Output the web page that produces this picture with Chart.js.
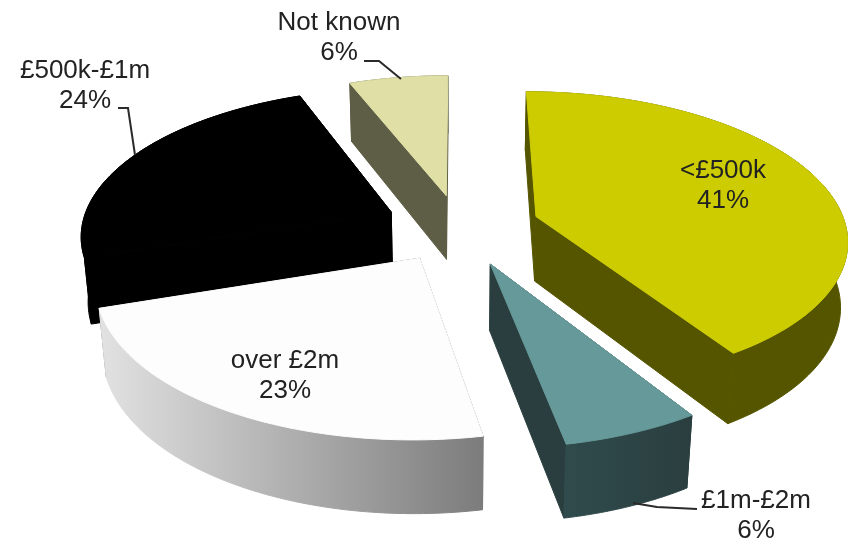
<!DOCTYPE html>
<html>
<head>
<meta charset="utf-8">
<title>Pie chart</title>
<script src="https://cdn.jsdelivr.net/npm/chart.js@4"></script>
<style>
    html, body { margin: 0; padding: 0; background: #ffffff; }
    canvas { display: block; }
</style>
</head>
<body>
<canvas id="chartBands" width="848" height="542"></canvas>
<script>
// slices, clockwise from 12 o'clock
var bands = ["<£500k", "£1m-£2m", "over £2m", "£500k-£1m", "Not known"];
var shares = [41, 6, 23, 24, 6];

// slice styling
var explode = [81, 82, 75, 76, 70];
var topColors = ["#cccc00", "#669999", "#fdfdfd", "#000000", "#e0e0a6"];
var wallColors = [["#555500", "#555500"], ["#304b4c", "#2a3e3f"], ["#e2e2e2", "#7c7c7c"], ["#000000", "#000000"], ["#5e5e46", "#5e5e46"]];
var drawOrder = [4, 3, 0, 2, 1];

// where each label sits: centre x, first baseline, and an optional leader line
var labelSpots = [
    { x: 723, y: 178 },
    { x: 756, y: 508, line: [[697, 509], [657, 507], [633, 503]] },
    { x: 285, y: 368 },
    { x: 85, y: 78, line: [[118, 108], [128, 108], [135, 155]] },
    { x: 339, y: 30, line: [[364, 61], [379, 61], [401, 79]] }
];

// camera for the tilted pie
var view = { cx: 459, cy: 227, radius: 310, height: 75, tilt: 28 * Math.PI / 180, distance: 1900 };

// ground position + drop below the top face -> screen position
function project(gx, gy, drop)
{
    var sinT = Math.sin(view.tilt);
    var cosT = Math.cos(view.tilt);
    var s = view.distance / (view.distance - (gy * cosT - drop * sinT));
    return [view.cx + gx * s, view.cy + (gy * sinT + drop * cosT) * s];
}

// fill and stroke in one colour so neighbouring faces leave no seam
function paintShape(ctx, pts, color)
{
    ctx.beginPath();
    ctx.moveTo(pts[0][0], pts[0][1]);
    for (var i = 1; i < pts.length; ++i)
        ctx.lineTo(pts[i][0], pts[i][1]);
    ctx.closePath();
    ctx.fillStyle = color;
    ctx.strokeStyle = color;
    ctx.lineWidth = 1;
    ctx.lineJoin = "round";
    ctx.fill();
    ctx.stroke();
}

// draw one arc element of the pie as a solid wedge
function drawWedge(ctx, arc, index)
{
    var a = arc.getProps(["startAngle", "endAngle"], true);
    var mid = (a.startAngle + a.endAngle) / 2;
    var ox = Math.cos(mid) * arc.options.offset;
    var oy = Math.sin(mid) * arc.options.offset;
    var r = view.radius;

    var topRim = [];
    var lowRim = [];
    for (var i = 0; i <= 80; ++i)
    {
        var t = a.startAngle + (a.endAngle - a.startAngle) * i / 80;
        var gx = ox + Math.cos(t) * r;
        var gy = oy + Math.sin(t) * r;
        topRim.push(project(gx, gy, 0));
        lowRim.push(project(gx, gy, view.height));
    }
    var apexTop = project(ox, oy, 0);
    var apexLow = project(ox, oy, view.height);

    // the two straight walls
    var wallColor = wallColors[index][1];
    if (index == 0 || index == 3 || index == 4)
        wallColor = wallColors[index][0];
    paintShape(ctx, [apexTop, topRim[0], lowRim[0], apexLow], wallColor);
    paintShape(ctx, [apexTop, topRim[80], lowRim[80], apexLow], wallColor);

    // outer curved wall, lighter on the left
    var xs = topRim.concat(lowRim).map(function (p) { return p[0]; });
    var grad = ctx.createLinearGradient(Math.min.apply(null, xs), 0, Math.max.apply(null, xs), 0);
    grad.addColorStop(0, wallColors[index][0]);
    grad.addColorStop(1, wallColors[index][1]);
    paintShape(ctx, topRim.concat(lowRim.slice().reverse()), grad);

    // top face
    paintShape(ctx, [apexTop].concat(topRim), arc.options.backgroundColor);
}

var wedgePlugin = {
    id: "wedges",
    beforeDatasetDraw: function (chart, args)
    {
        var ctx = chart.ctx;
        var arcs = chart.getDatasetMeta(args.index).data;
        ctx.save();
        for (var i = 0; i < drawOrder.length; ++i)
            drawWedge(ctx, arcs[drawOrder[i]], drawOrder[i]);
        ctx.restore();
        return false; // the wedges replace the flat arcs
    },
    afterDraw: function (chart)
    {
        var ctx = chart.ctx;
        ctx.save();
        ctx.font = "26px 'Liberation Sans', Arial, sans-serif";
        ctx.textAlign = "center";
        ctx.fillStyle = "#222222";
        ctx.strokeStyle = "#2a2a2a";
        ctx.lineWidth = 2;
        for (var i = 0; i < bands.length; ++i)
        {
            var spot = labelSpots[i];
            ctx.fillText(bands[i], spot.x, spot.y);
            ctx.fillText(shares[i] + "%", spot.x, spot.y + 30);
            if (spot.line)
            {
                ctx.beginPath();
                ctx.moveTo(spot.line[0][0], spot.line[0][1]);
                for (var j = 1; j < spot.line.length; ++j)
                    ctx.lineTo(spot.line[j][0], spot.line[j][1]);
                ctx.stroke();
            }
        }
        ctx.restore();
    }
};

new Chart(document.getElementById("chartBands").getContext("2d"), {
    type: "pie",
    data: {
        labels: bands,
        datasets: [{
            data: shares,
            backgroundColor: topColors,
            offset: explode,
            borderWidth: 0
        }]
    },
    options: {
        responsive: false,
        animation: false,
        plugins: {
            legend: { display: false },
            tooltip: { enabled: false }
        }
    },
    plugins: [wedgePlugin]
});
</script>
</body>
</html>
